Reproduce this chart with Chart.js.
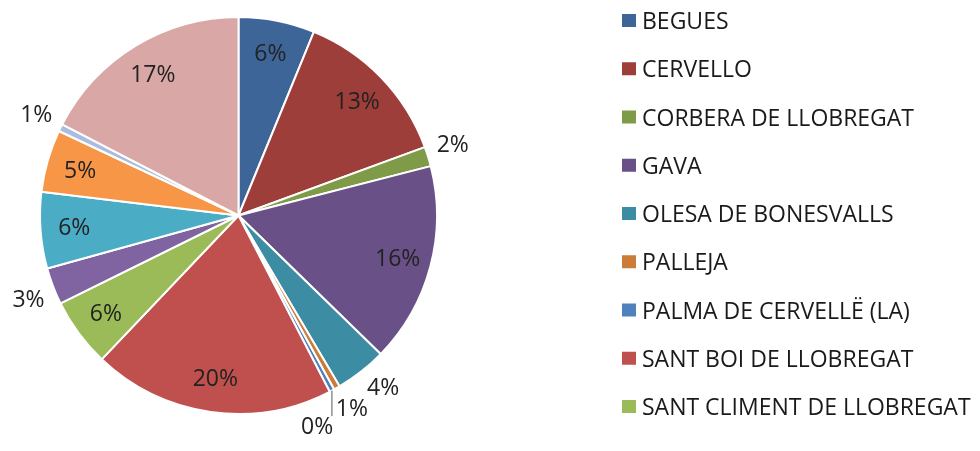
<!DOCTYPE html>
<html lang="ca">
<head>
<meta charset="UTF-8">
<title>Municipis</title>
<script src="https://cdn.jsdelivr.net/npm/chart.js@4.4.1/dist/chart.umd.min.js"></script>
<style>
  body { margin: 0; background: #fff; }
  #chartBox { width: 980px; height: 451px; }
</style>
</head>
<body>
<div id="chartBox"><canvas id="pieChart" width="980" height="451"></canvas></div>
<script>
// data (shares in tenths of a percent)
const municipis = [
  'BEGUES', 'CERVELLO', 'CORBERA DE LLOBREGAT', 'GAVA', 'OLESA DE BONESVALLS',
  'PALLEJA', 'PALMA DE CERVELLË (LA)', 'SANT BOI DE LLOBREGAT', 'SANT CLIMENT DE LLOBREGAT',
  'SANT VICENC DELS HORTS', 'SANTA COLOMA DE CERVELLO', 'TORRELLES DE LLOBREGAT',
  'VALLIRANA', 'VILADECANS'
];
const valors = [62, 132, 16, 163, 42, 5, 4, 197, 56, 30, 62, 51, 6, 174];
const colors = [
  '#3e6597', '#9d3e3a', '#7f9b48', '#695087', '#3c8ca3', '#cc7c38', '#4f81bd',
  '#c0504d', '#9bbb59', '#8064a2', '#4bacc6', '#f79646', '#aabddf', '#d9a7a6'
];

const total = valors.reduce((a, b) => a + b, 0);
const textFont = '23px "Open Sans"';

// percentage labels: inside for big slices, outside for small ones.
// outside labels sit with their near corner on the anchor point and
// slide clockwise round the pie when they would overlap a previous one.
const pctLabels = {
  id: 'pctLabels',
  afterDatasetsDraw(chart) {
    const ctx = chart.ctx;
    const arcs = chart.getDatasetMeta(0).data;
    const placed = [];
    ctx.save();
    ctx.font = textFont;
    ctx.textAlign = 'center';
    ctx.textBaseline = 'middle';
    arcs.forEach((arc, i) => {
      const p = arc.getProps(['x', 'y', 'startAngle', 'endAngle', 'outerRadius'], true);
      const mid = (p.startAngle + p.endAngle) / 2;
      const pct = valors[i] * 100 / total;
      const text = Math.round(pct) + '%';
      const w = ctx.measureText(text).width + 2;
      const h = 20;
      let box;
      if (pct >= 4.5) {
        const r = p.outerRadius * 0.83;
        const cx = p.x + Math.cos(mid) * r;
        const cy = p.y + Math.sin(mid) * r;
        box = { l: cx - w / 2, r: cx + w / 2, t: cy - h / 2, b: cy + h / 2 };
      } else {
        let a = mid;
        let r = p.outerRadius + 8;
        const boxAt = () => {
          const ax = p.x + Math.cos(a) * r;
          const ay = p.y + Math.sin(a) * r;
          const l = Math.cos(a) >= 0 ? ax : ax - w;
          const t = Math.sin(a) >= 0 ? ay : ay - h;
          return { l: l, r: l + w, t: t, b: t + h };
        };
        box = boxAt();
        while (placed.some(o => box.l < o.r && box.r > o.l && box.t < o.b && box.b > o.t)) {
          a += Math.PI / 180;
          r += 0.3;
          box = boxAt();
        }
        // leader line when the label has drifted away from its slice
        const ex = p.x + Math.cos(mid) * p.outerRadius;
        const ey = p.y + Math.sin(mid) * p.outerRadius;
        const nx = Math.min(Math.max(ex, box.l), box.r);
        const ny = Math.min(Math.max(ey, box.t), box.b);
        if (Math.hypot(nx - ex, ny - ey) > 14) {
          ctx.strokeStyle = '#595959';
          ctx.lineWidth = 1;
          ctx.beginPath();
          ctx.moveTo(ex, ey);
          ctx.lineTo(nx, ny);
          ctx.stroke();
        }
      }
      placed.push(box);
      ctx.fillStyle = '#222';
      ctx.fillText(text, (box.l + box.r) / 2, (box.t + box.b) / 2 + 1);
    });
    ctx.restore();
  }
};

// legend column on the right; rows that do not fit are left out
const legendRows = {
  id: 'legendRows',
  afterDraw(chart) {
    const ctx = chart.ctx;
    const left = chart.chartArea.right + 184;
    ctx.save();
    ctx.font = textFont;
    ctx.textAlign = 'left';
    ctx.textBaseline = 'alphabetic';
    municipis.forEach((name, i) => {
      const base = 29 + i * 48.25;
      if (base + 6 > chart.height) return;
      ctx.fillStyle = colors[i];
      ctx.fillRect(left, base - 15, 14, 13);
      ctx.fillStyle = '#1a1a1a';
      ctx.fillText(name, left + 20, base);
    });
    ctx.restore();
  }
};

Chart.defaults.font.family = '"Open Sans", sans-serif';

new Chart(document.getElementById('pieChart'), {
  type: 'pie',
  data: {
    labels: municipis,
    datasets: [{
      data: valors,
      backgroundColor: colors,
      borderColor: '#fff',
      borderWidth: 2
    }]
  },
  options: {
    responsive: false,
    animation: false,
    layout: { padding: { left: 39, right: 542, top: 15, bottom: 35 } },
    plugins: {
      legend: { display: false },
      tooltip: { enabled: false }
    }
  },
  plugins: [pctLabels, legendRows]
});
</script>
</body>
</html>
